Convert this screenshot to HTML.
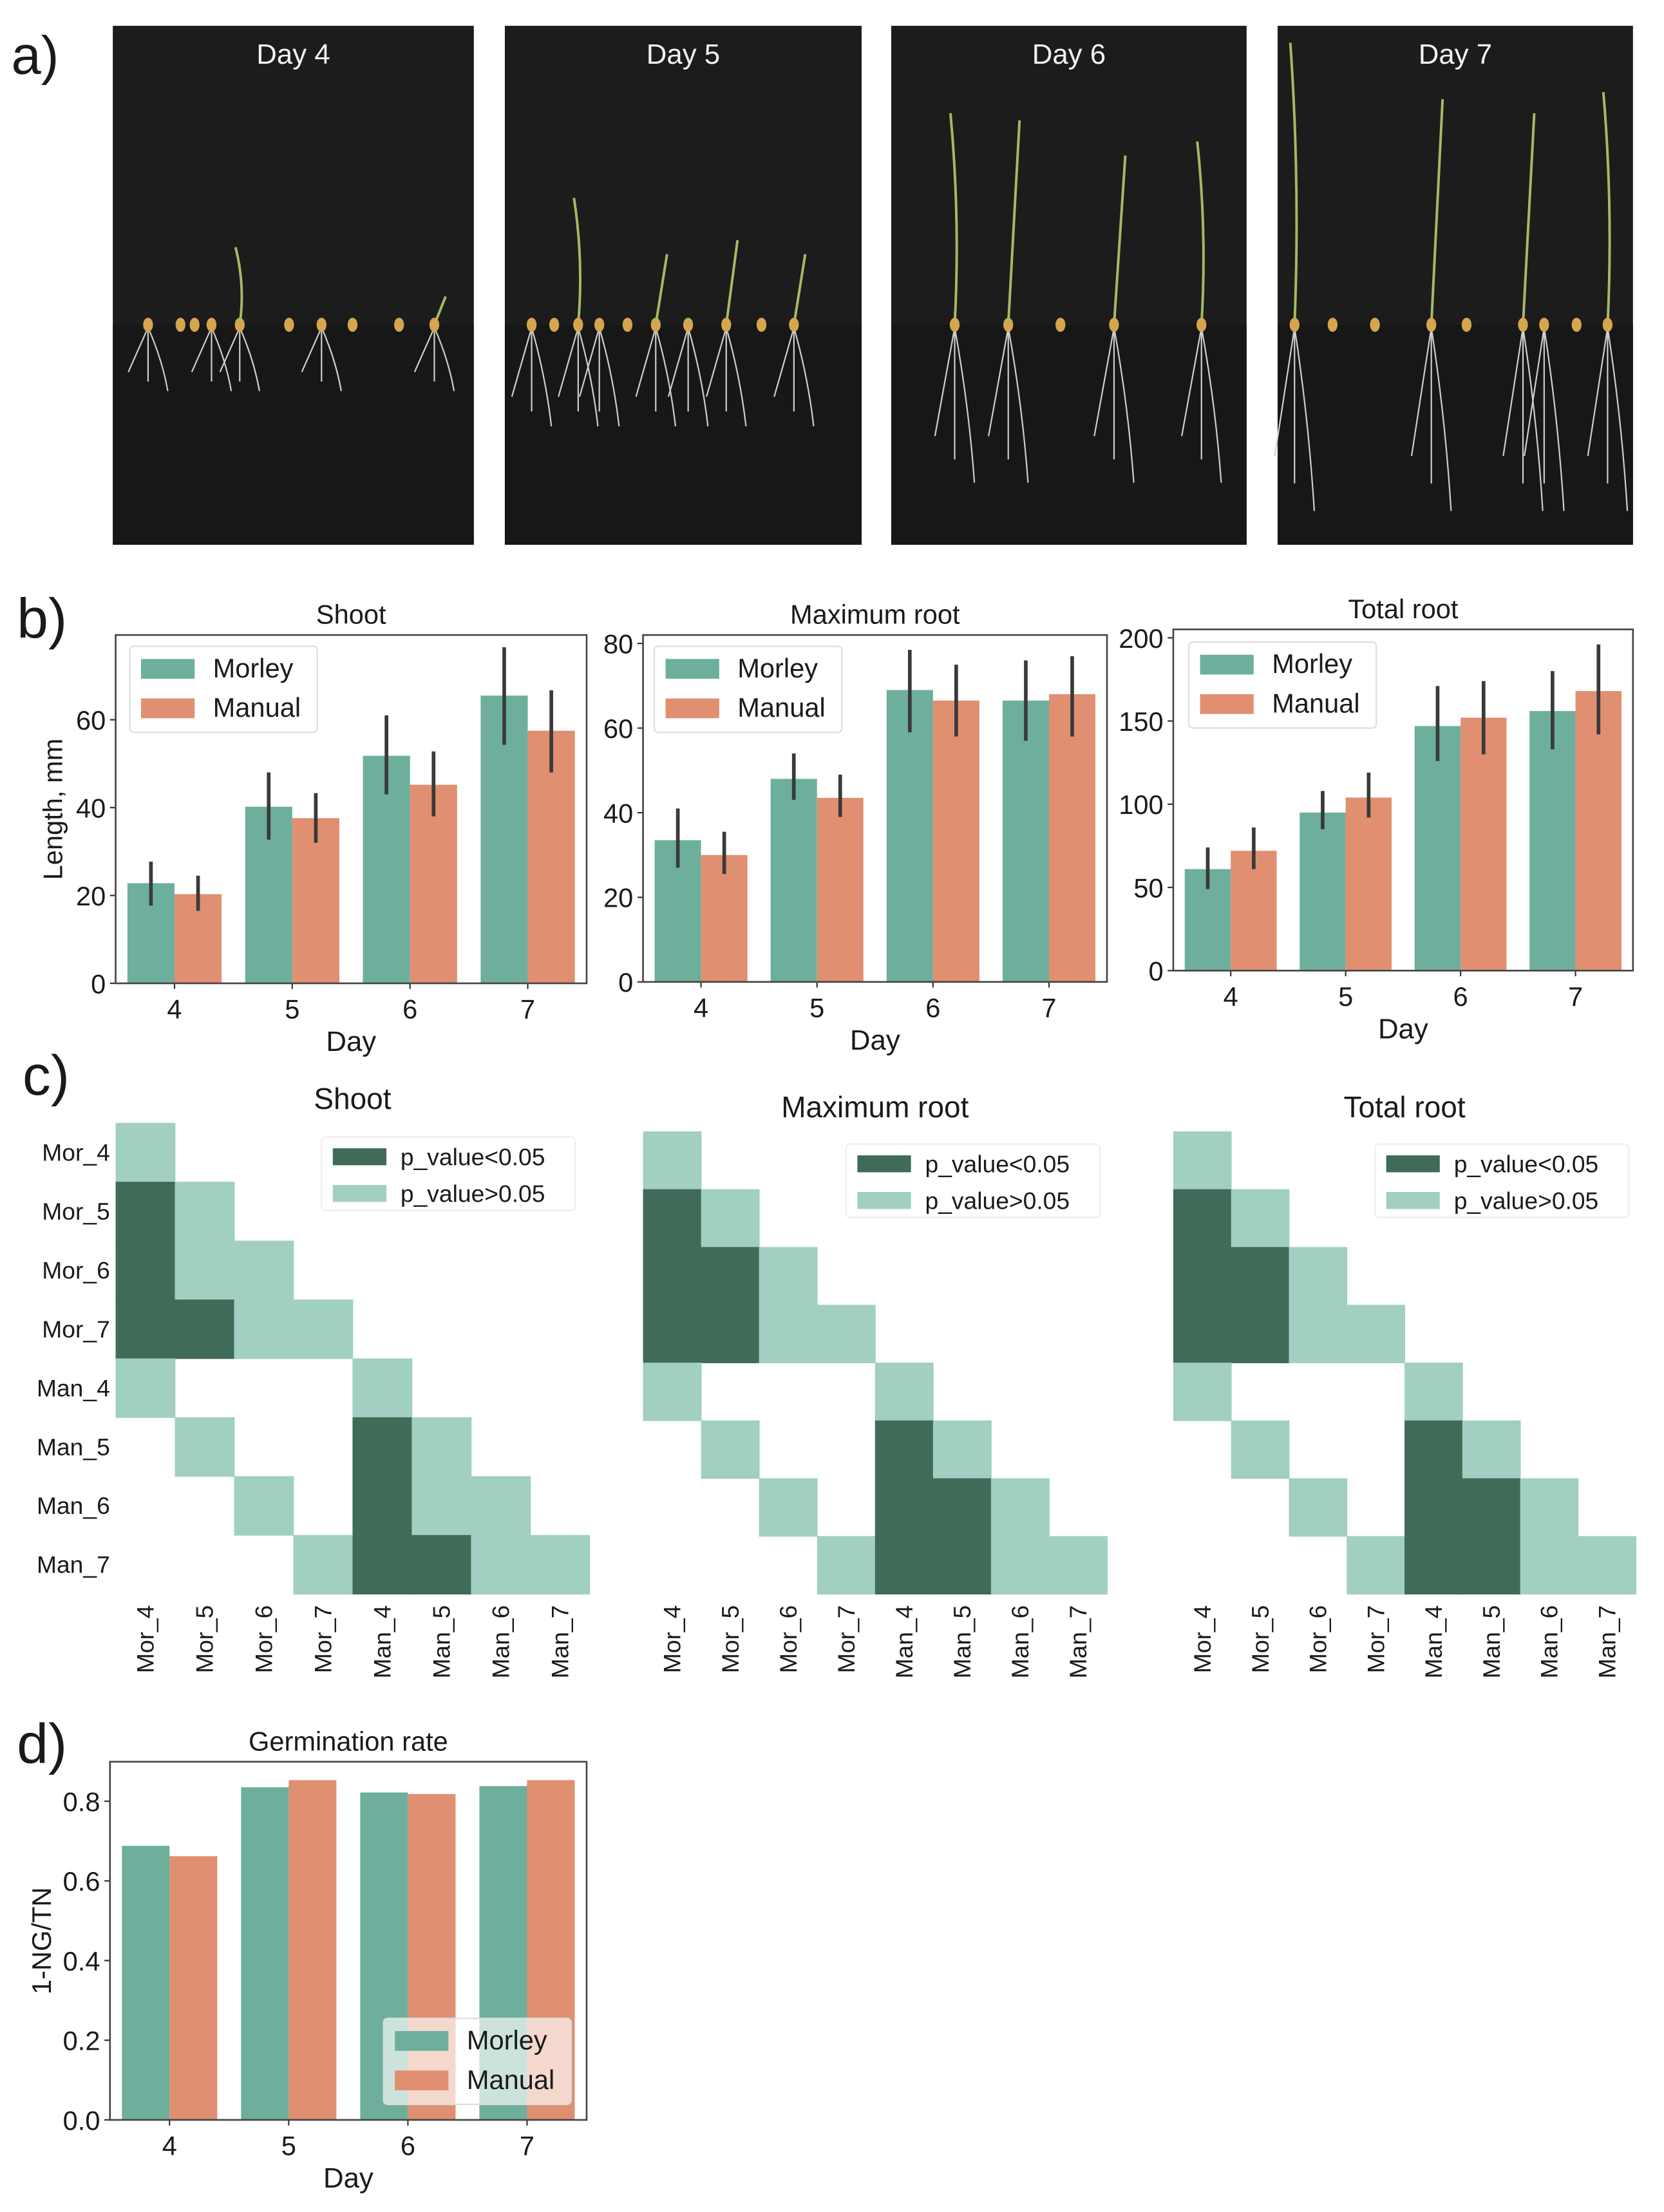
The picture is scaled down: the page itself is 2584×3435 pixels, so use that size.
<!DOCTYPE html>
<html><head><meta charset="utf-8"><style>
html,body{margin:0;padding:0;background:#fff}
svg{display:block}
text{font-family:"Liberation Sans","DejaVu Sans",sans-serif;fill:#1a1a1a}
</style></head><body>
<svg id="fig" width="2584" height="3435" viewBox="0 0 1180 1568" xmlns="http://www.w3.org/2000/svg">
<g id="pa"></g>
<g id="pb"></g>
<g id="pc"></g>
<g id="pd"></g>
</svg>
<script>
// ---------- data ----------
const days = ["4","5","6","7"];
const shootMorley = [22.8, 40.2, 51.8, 65.5];
const shootManual = [20.3, 37.6, 45.2, 57.5];
const shootMorleyErrLo = [17.7, 32.7, 43, 54.3];
const shootMorleyErrHi = [27.7, 48, 61, 76.5];
const shootManualErrLo = [16.5, 32, 38, 48];
const shootManualErrHi = [24.5, 43.3, 52.8, 66.7];
const maxMorley = [33.5, 48, 69, 66.5];
const maxManual = [30, 43.5, 66.5, 68];
const maxMorleyErrLo = [27, 43, 59, 57];
const maxMorleyErrHi = [41, 54, 78.5, 76];
const maxManualErrLo = [25.5, 39, 58, 58];
const maxManualErrHi = [35.5, 49, 75, 77];
const totMorley = [61, 95, 147, 156];
const totManual = [72, 104, 152, 168];
const totMorleyErrLo = [49, 85, 126, 133];
const totMorleyErrHi = [74, 108, 171, 180];
const totManualErrLo = [61, 92, 130, 142];
const totManualErrHi = [86, 119, 174, 196];
const shootTicks = [0, 20, 40, 60];
const maxTicks = [0, 20, 40, 60, 80];
const totTicks = [0, 50, 100, 150, 200];
const germMorley = [0.688, 0.835, 0.822, 0.838];
const germManual = [0.662, 0.853, 0.818, 0.853];
const germTicks = [0, 0.2, 0.4, 0.6, 0.8];
const heatLabels = ["Mor_4","Mor_5","Mor_6","Mor_7","Man_4","Man_5","Man_6","Man_7"];
const heatShoot = [[1],[2,1],[2,1,1],[2,2,1,1],[1,0,0,0,1],[0,1,0,0,2,1],[0,0,1,0,2,1,1],[0,0,0,1,2,2,1,1]];
const heatMax = [[1],[2,1],[2,2,1],[2,2,1,1],[1,0,0,0,1],[0,1,0,0,2,1],[0,0,1,0,2,2,1],[0,0,0,1,2,2,1,1]];
const heatTot = [[1],[2,1],[2,2,1],[2,2,1,1],[1,0,0,0,1],[0,1,0,0,2,1],[0,0,1,0,2,2,1],[0,0,0,1,2,2,1,1]];

const NS="http://www.w3.org/2000/svg";
const TEAL="#6daf9c", ORANGE="#e08f71", DARK="#3f6b58", LIGHT="#a1cfc2";
function mk(parent, tag, attrs, txt){
  const e=document.createElementNS(NS,tag);
  for(const k in attrs) e.setAttribute(k, attrs[k]);
  if(txt!==undefined) e.textContent=txt;
  parent.appendChild(e); return e;
}

// ---------- panel a ----------
const pa=document.getElementById('pa');
const lblA=mk(pa,'text',{x:8,y:52,'font-size':38},'a)');


const photos=[[80,336,"Day 4",[105,128,138,150,170,205,228,250,283,308],[0,0,0,0,55,0,0,0,0,20]],
              [358,611,"Day 5",[377,393,410,425,445,465,488,515,540,563],[0,0,90,0,0,50,0,60,0,50]],
              [632,884,"Day 6",[677,715,752,790,852],[150,145,0,120,130]],
              [906,1158,"Day 7",[918,945,975,1015,1040,1080,1095,1118,1140],[200,0,0,160,0,150,0,0,165]]];
photos.forEach((p,i)=>{
  const g=mk(pa,'g',{});
  
  
  mk(g,'rect',{x:p[0],y:18,width:p[1]-p[0],height:368,fill:'#1c1c1c'});
  mk(g,'rect',{x:p[0],y:230,width:p[1]-p[0],height:156,fill:'#171717'});
  const t=mk(g,'text',{x:(p[0]+p[1])/2,y:45,'font-size':20,'text-anchor':'middle',style:'fill:#f2f2f2'},p[2]);
  
  
  const rootLen=[45,70,110,130][i];
  p[3].forEach((x,j)=>{
    const sh=p[4][j];
    if(sh>0) mk(g,'path',{d:`M${x} 230 Q${x+4} ${230-sh/2} ${x+(j%2?8:-3)} ${230-sh}`,stroke:'#a8b865','stroke-width':1.8,fill:'none'});
    if(sh>0||j%3==0){
      for(let r=0;r<3;r++) mk(g,'path',{d:`M${x} 232 Q${x-10+r*10} ${232+rootLen/2} ${x-14+r*14} ${232+rootLen*(0.7+0.15*r)}`,stroke:'#cfcfcf','stroke-width':1,fill:'none'});
    }
    mk(g,'ellipse',{cx:x,cy:230,rx:3.5,ry:5,fill:'#d5a64e'});
  });
});

// ---------- bar charts ----------
function barChart(parent, cfg){
  const g=mk(parent,'g',{});
  
  
  const {x0,x1,y0,y1,ymax}=cfg;
  const ys=v=>y1-(v/ymax)*(y1-y0);
  const step=(x1-x0)/days.length;
  const xc=i=>x0+step*(i+0.5);
  const bw=step*0.4;
  const t=mk(g,'text',{x:(x0+x1)/2,y:y0-8,'font-size':19,'text-anchor':'middle'},cfg.title);
  
  
  days.forEach((d,i)=>{
    const b1=mk(g,'rect',{x:xc(i)-bw,y:ys(cfg.a[i]),width:bw,height:y1-ys(cfg.a[i]),fill:TEAL});
    
    
    const b2=mk(g,'rect',{x:xc(i),y:ys(cfg.b[i]),width:bw,height:y1-ys(cfg.b[i]),fill:ORANGE});
    
    
    if(cfg.aLo){
      const e1=mk(g,'line',{x1:xc(i)-bw/2,x2:xc(i)-bw/2,y1:ys(cfg.aLo[i]),y2:ys(cfg.aHi[i]),stroke:'#3a3a3a','stroke-width':2.6});
      
      
      const e2=mk(g,'line',{x1:xc(i)+bw/2,x2:xc(i)+bw/2,y1:ys(cfg.bLo[i]),y2:ys(cfg.bHi[i]),stroke:'#3a3a3a','stroke-width':2.6});
      
      
    }
    mk(g,'line',{x1:xc(i),x2:xc(i),y1:y1,y2:y1+4,stroke:'#333','stroke-width':1});
    const tl=mk(g,'text',{x:xc(i),y:y1+25,'font-size':19,'text-anchor':'middle'},d);
    
    
  });
  cfg.ticks.forEach(v=>{
    mk(g,'line',{x1:x0-4,x2:x0,y1:ys(v),y2:ys(v),stroke:'#333','stroke-width':1});
    const tl=mk(g,'text',{x:x0-7,y:ys(v)+7,'font-size':19,'text-anchor':'end'},cfg.fmt?cfg.fmt(v):v);
    
    
  });
  mk(g,'rect',{x:x0,y:y0,width:x1-x0,height:y1-y0,fill:'none',stroke:'#444','stroke-width':1.2});
  const xl=mk(g,'text',{x:(x0+x1)/2,y:y1+48,'font-size':20,'text-anchor':'middle'},'Day');
  
  
  if(cfg.ylabel){
    const yl=mk(g,'text',{x:0,y:0,'font-size':19,'text-anchor':'middle',transform:`translate(${cfg.ylx},${(y0+y1)/2}) rotate(-90)`},cfg.ylabel);
    
    
  }
  const L=cfg.leg;
  const lg=mk(g,'g',{});
  
  
  mk(lg,'rect',{x:L[0],y:L[1],width:133,height:61,rx:3,fill:'#fff','fill-opacity':L[2]||1,stroke:'#ddd'});
  mk(lg,'rect',{x:L[0]+8,y:L[1]+9,width:38,height:14,fill:TEAL});
  mk(lg,'rect',{x:L[0]+8,y:L[1]+37,width:38,height:14,fill:ORANGE});
  const l1=mk(lg,'text',{x:L[0]+59,y:L[1]+22,'font-size':19},'Morley');
  
  
  const l2=mk(lg,'text',{x:L[0]+59,y:L[1]+50,'font-size':19},'Manual');
  
  
}
const pb=document.getElementById('pb');
const lblB=mk(pb,'text',{x:12,y:452,'font-size':40},'b)');


barChart(pb,{name:'shoot-chart',title:'Shoot',x0:82,x1:416,y0:450,y1:697,ymax:(697-450)/62.3*20,
  a:shootMorley,b:shootManual,aLo:shootMorleyErrLo,aHi:shootMorleyErrHi,bLo:shootManualErrLo,bHi:shootManualErrHi,
  ticks:shootTicks,ylabel:'Length, mm',ylx:44,leg:[92,458]});
barChart(pb,{name:'max-root-chart',title:'Maximum root',x0:456,x1:785,y0:450,y1:696,ymax:(696-450)/60*20,
  a:maxMorley,b:maxManual,aLo:maxMorleyErrLo,aHi:maxMorleyErrHi,bLo:maxManualErrLo,bHi:maxManualErrHi,
  ticks:maxTicks,leg:[464,458]});
barChart(pb,{name:'total-root-chart',title:'Total root',x0:832,x1:1158,y0:446,y1:688,ymax:(688-446)/59*50,
  a:totMorley,b:totManual,aLo:totMorleyErrLo,aHi:totMorleyErrHi,bLo:totManualErrLo,bHi:totManualErrHi,
  ticks:totTicks,leg:[843,455]});

// ---------- heatmaps ----------
function heat(parent,name,title,m,x0,x1,y0,y1,legX,legY,rowLabels){
  const g=mk(parent,'g',{});
  
  
  const cw=(x1-x0)/8, ch=(y1-y0)/8;
  const t=mk(g,'text',{x:(x0+x1)/2,y:y0-10,'font-size':21,'text-anchor':'middle'},title);
  
  
  m.forEach((row,r)=>row.forEach((v,c)=>{
    if(!v) return;
    const cell=mk(g,'rect',{x:x0+c*cw,y:y0+r*ch,width:cw+0.4,height:ch+0.4,fill:v==2?DARK:LIGHT});
    
    
  }));
  heatLabels.forEach((l,i)=>{
    if(rowLabels){
      const yl=mk(g,'text',{x:x0-4,y:y0+ch*(i+0.5)+6,'font-size':17,'text-anchor':'end'},l);
      
      
    }
    const xx=x0+cw*(i+0.5);
    const xl=mk(g,'text',{x:0,y:0,'font-size':17,'text-anchor':'end',transform:`translate(${xx+6},${y1+8}) rotate(-90)`},l);
    
    
  });
  const lg=mk(g,'g',{});
  
  
  mk(lg,'rect',{x:legX,y:legY,width:180,height:52,rx:3,fill:'#fff',stroke:'#eee'});
  mk(lg,'rect',{x:legX+8,y:legY+8,width:38,height:12,fill:DARK});
  mk(lg,'rect',{x:legX+8,y:legY+34,width:38,height:12,fill:LIGHT});
  mk(lg,'text',{x:legX+56,y:legY+20,'font-size':17},'p_value<0.05');
  mk(lg,'text',{x:legX+56,y:legY+46,'font-size':17},'p_value>0.05');
}
const pc=document.getElementById('pc');
const lblC=mk(pc,'text',{x:16,y:776,'font-size':40},'c)');


heat(pc,'heatmap-shoot','Shoot',heatShoot,82,418,796,1130,228,806,true);
heat(pc,'heatmap-max-root','Maximum root',heatMax,456,785,802,1130,600,811,false);
heat(pc,'heatmap-total-root','Total root',heatTot,832,1160,802,1130,975,811,false);

// ---------- panel d ----------
const pd=document.getElementById('pd');
const lblD=mk(pd,'text',{x:12,y:1250,'font-size':40},'d)');


barChart(pd,{name:'germination-chart',title:'Germination rate',x0:78,x1:416,y0:1249,y1:1503,ymax:(1503-1249)/56.5*0.2,
  a:germMorley,b:germManual,ticks:germTicks,fmt:v=>v.toFixed(1),ylabel:'1-NG/TN',ylx:36,leg:[272,1431,0.65]});
</script>
</body></html>
